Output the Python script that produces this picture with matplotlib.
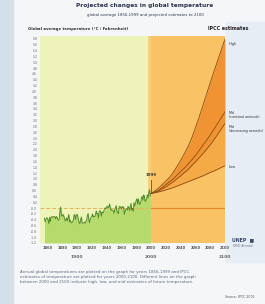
import matplotlib
matplotlib.use('Agg')
import matplotlib.pyplot as plt
from matplotlib.patches import Rectangle
import numpy as np

# observed global average temperature anomaly (deg C), 1856-1999
hist_years = list(range(1856, 2000))
hist_temp = [
    -0.35, -0.47, -0.40, -0.33, -0.36, -0.42, -0.54, -0.32, -0.46, -0.31,
    -0.30, -0.33, -0.29, -0.30, -0.30, -0.37, -0.29, -0.32, -0.39, -0.42,
    -0.38, -0.08, 0.03, -0.27, -0.28, -0.22, -0.26, -0.35, -0.44, -0.42,
    -0.34, -0.44, -0.33, -0.22, -0.47, -0.42, -0.50, -0.51, -0.46, -0.43,
    -0.24, -0.23, -0.40, -0.27, -0.21, -0.28, -0.41, -0.50, -0.54, -0.39,
    -0.31, -0.51, -0.52, -0.51, -0.49, -0.52, -0.45, -0.44, -0.27, -0.19,
    -0.40, -0.50, -0.39, -0.32, -0.29, -0.20, -0.30, -0.29, -0.30, -0.22,
    -0.10, -0.20, -0.19, -0.34, -0.13, -0.09, -0.14, -0.28, -0.13, -0.17,
    -0.14, -0.03, 0.00, -0.02, 0.03, 0.07, 0.01, 0.02, 0.14, 0.02,
    -0.08, -0.06, -0.08, -0.09, -0.18, -0.05, 0.01, 0.08, -0.13, -0.14,
    -0.19, 0.04, 0.06, 0.02, -0.03, 0.05, 0.02, 0.04, -0.22, -0.11,
    -0.06, -0.02, -0.07, 0.06, 0.03, -0.09, 0.01, 0.16, -0.07, -0.01,
    -0.11, 0.18, 0.07, 0.16, 0.26, 0.32, 0.14, 0.31, 0.16, 0.12,
    0.18, 0.33, 0.40, 0.27, 0.45, 0.41, 0.23, 0.24, 0.31, 0.45,
    0.35, 0.52, 0.63, 0.42,
]

# IPCC projections, every 5 years 2000-2100
proj_years = list(range(2000, 2101, 5))
proj_high = [0.5, 0.58, 0.68, 0.8, 0.92, 1.05, 1.22, 1.42, 1.63, 1.86, 2.1,
             2.4, 2.75, 3.12, 3.5, 3.9, 4.3, 4.68, 5.05, 5.42, 5.8]
proj_mid_const = [0.5, 0.55, 0.6, 0.7, 0.8, 0.9, 1.0, 1.12, 1.25, 1.37, 1.5,
                  1.65, 1.8, 1.97, 2.15, 2.32, 2.5, 2.7, 2.9, 3.1, 3.3]
proj_mid_decr = [0.5, 0.54, 0.58, 0.65, 0.72, 0.81, 0.9, 1.0, 1.1, 1.21, 1.32,
                 1.45, 1.58, 1.72, 1.86, 2.01, 2.17, 2.34, 2.52, 2.71, 2.9]
proj_low = [0.5, 0.52, 0.55, 0.58, 0.62, 0.66, 0.7, 0.75, 0.8, 0.85, 0.9,
            0.95, 1.0, 1.05, 1.1, 1.16, 1.22, 1.27, 1.33, 1.39, 1.45]

small_years = list(range(1860, 2101, 20))
big_years = [1900, 2000, 2100]

W, H = 265, 304


def px(x, y):
    return x / W, 1 - y / H


fig = plt.figure(figsize=(W / 100, H / 100), dpi=100)
fig.patch.set_facecolor('#f4f6f8')

# background panels
fig.patches.append(Rectangle((0, 0), 13 / W, 1, transform=fig.transFigure,
                             color='#d3dfe9', zorder=-5))
fig.patches.append(Rectangle(px(226, 262), 39 / W, 240 / H, transform=fig.transFigure,
                             color='#e6edf4', zorder=-5))

ax = fig.add_axes([40 / W, 1 - 243 / H, 185 / W, 207 / H])
ax.set_facecolor('#eef4b9')
ax.set_xlim(1850, 2100)
ax.set_ylim(-1.2, 5.9)

# projection period
ax.axvspan(1996, 2000, color='#f6cf7c', lw=0, zorder=1)
ax.axvspan(2000, 2100, color='#f9c265', lw=0, zorder=1)
ax.fill_between(proj_years, proj_low, proj_mid_decr, color='#f5aa48', lw=0, zorder=2)
ax.fill_between(proj_years, proj_mid_decr, proj_high, color='#f09433', lw=0, zorder=2)
for vals in [proj_high, proj_mid_const, proj_mid_decr, proj_low]:
    ax.plot(proj_years, vals, color='#8a4d14', lw=0.6, zorder=4)

# observed period
ax.fill_between(hist_years, -1.2, hist_temp, color='#b6db6c', lw=0, zorder=2)
ax.plot(hist_years, hist_temp, color='#4f8a2a', lw=0.7, zorder=4)
ax.axhline(0, color='#e9b060', lw=0.7, ls=(0, (4, 2)), zorder=3)
ax.plot([2000, 2100], [0, 0], color='#e08a2a', lw=0.8, zorder=3)

# 1999 marker
ax.plot([2000, 2000], [0.5, 0.95], color='#446630', lw=0.6, zorder=5)
ax.text(2000, 1.05, '1999', fontsize=2.8, fontweight='bold', color='#333333',
        ha='center', va='bottom', zorder=5)

ax.set_xticks(small_years)
ax.set_xticklabels([str(y) for y in small_years], fontsize=2.6, fontweight='bold',
                   color='#555555')
ax.set_yticks(np.round(np.arange(-1.2, 5.81, 0.2), 1))
ax.set_yticklabels(['%.1f' % v for v in np.arange(-1.2, 5.81, 0.2)], fontsize=2.2,
                   color='#666666')
ax.tick_params(length=0, pad=2)
for s in ax.spines.values():
    s.set_visible(False)

for y in big_years:
    ax.text(y, -0.06, str(y), transform=ax.get_xaxis_transform(), fontsize=3.2,
            fontweight='bold', color='#666666', ha='center', va='top')

# titles
fig.text(*px(145, 6), 'Projected changes in global temperature', fontsize=4.2,
         fontweight='bold', color='#2a3550', ha='center', va='center')
fig.text(*px(145, 15), 'global average 1856-1999 and projected estimates to 2100',
         fontsize=2.8, color='#2a3550', ha='center', va='center')
fig.text(*px(28, 29), 'Global average temperature (\u00b0C / Fahrenheit)', fontsize=2.8,
         fontweight='bold', color='#333333', ha='left', va='center')
fig.text(*px(249, 29), 'IPCC estimates', fontsize=3.4, fontweight='bold',
         color='#222222', ha='right', va='center')

# scenario labels
fig.text(*px(229, 44), 'High', fontsize=2.5, color='#333333', va='center')
fig.text(*px(229, 115), 'Mid\n(constant aerosols)', fontsize=2.3, color='#333333',
         va='center', linespacing=1.0)
fig.text(*px(229, 129), 'Mid\n(decreasing aerosols)', fontsize=2.3, color='#333333',
         va='center', linespacing=1.0)
fig.text(*px(229, 167), 'Low', fontsize=2.5, color='#333333', va='center')

# logo
fig.text(*px(243, 240), 'UNEP  \u25a0', fontsize=3.4, fontweight='bold',
         color='#3a4a6a', ha='center', va='center')
fig.text(*px(243, 246), 'GRID Arendal', fontsize=2.2, color='#6a7a90',
         ha='center', va='center')

caption = ('Annual global temperatures are plotted on the graph for years 1856-1999 and IPCC\n'
           'estimates of temperature are plotted for years 2000-2100. Different lines on the graph\n'
           'between 2000 and 2100 indicate high, low, and mid estimates of future temperature.')
fig.text(*px(20, 277), caption, fontsize=2.9, color='#5a6a80', ha='left', va='center',
         linespacing=1.2)
fig.text(*px(255, 297), 'Source: IPCC 2001', fontsize=2.3, color='#555555',
         ha='right', va='center')

fig.savefig('out.png', dpi=100, facecolor=fig.get_facecolor())
